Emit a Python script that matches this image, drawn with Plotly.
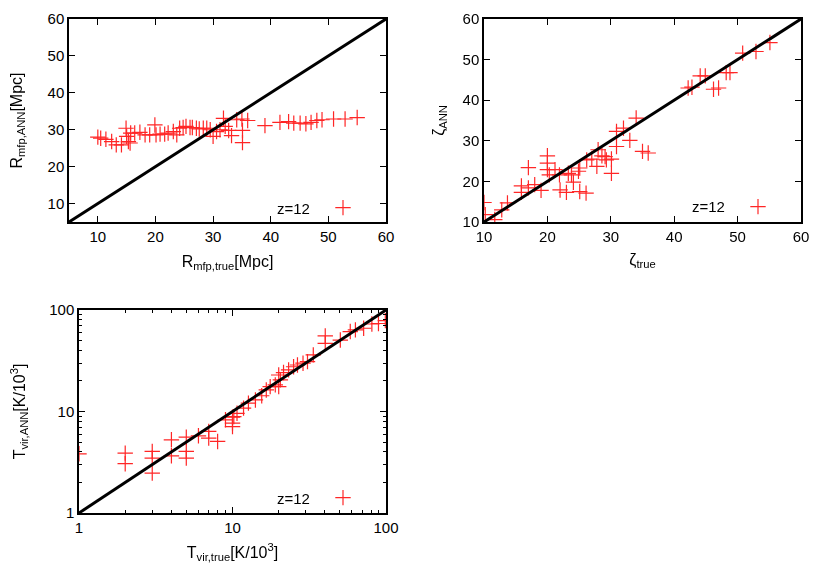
import plotly.graph_objects as go

# ---------------- data ----------------
# Panel 1: R_mfp
r_true = [10.0, 10.5, 11.4, 12.4, 13.2, 14.1, 14.9, 15.0, 15.3, 15.6, 15.7, 16.4, 17.3, 18.2,
          19.0, 19.9, 20.1, 20.8, 21.6, 22.2, 23.1, 23.7, 24.2, 24.8, 25.3, 26.0, 26.4, 27.1,
          27.6, 28.3, 28.9, 29.5, 30.0, 30.6, 31.2, 31.8, 32.1, 32.7, 33.2, 34.1, 35.0, 35.1,
          35.1, 36.0, 39.0, 41.6, 43.1, 44.0, 45.1, 46.1, 47.0, 48.0, 48.9, 50.9, 52.9, 55.0]
r_ann = [28.0, 27.7, 27.4, 26.8, 25.9, 25.9, 30.4, 28.2, 26.8, 26.4, 29.1, 29.1, 29.3, 28.6,
         28.6, 31.3, 28.6, 28.8, 28.8, 29.1, 29.5, 28.6, 30.4, 30.6, 30.9, 30.6, 30.6, 30.4,
         30.2, 30.4, 30.4, 30.0, 28.2, 29.5, 30.0, 33.1, 30.9, 29.8, 28.4, 32.7, 32.9, 29.8,
         26.5, 32.5, 31.1, 32.0, 32.2, 31.8, 31.8, 31.6, 32.0, 32.5, 32.7, 32.9, 32.9, 33.3]

# Panel 2: zeta
zeta_true = [10.0, 10.2, 11.7, 12.8, 13.7, 15.9, 15.9, 17.0, 17.0, 18.0, 19.0, 20.0, 20.0, 20.0,
             20.3, 21.2, 21.9, 22.0, 23.0, 23.3, 24.1, 23.8, 24.9, 25.1, 25.1, 26.1, 26.2, 27.0,
             27.8, 28.0, 28.6, 29.1, 29.3, 30.1, 30.1, 30.9, 30.9, 32.0, 33.0, 34.0, 35.0, 35.9,
             42.2, 42.8, 44.1, 44.9, 46.2, 47.0, 48.2, 48.8, 50.8, 52.9, 55.1]
zeta_ann = [14.8, 11.8, 10.6, 13.0, 14.7, 18.9, 17.3, 23.4, 18.4, 19.2, 17.8, 26.3, 24.5, 22.9,
            21.6, 22.9, 21.6, 17.9, 17.3, 22.0, 19.8, 21.6, 22.5, 23.3, 17.5, 17.1, 25.3, 25.5,
            23.7, 27.8, 26.3, 26.1, 25.3, 25.5, 22.0, 32.3, 28.6, 33.1, 30.1, 35.6, 27.4, 27.0,
            43.0, 43.2, 46.0, 46.0, 42.7, 43.0, 46.8, 46.8, 51.6, 52.0, 54.2]

# Panel 3: T_vir
t_true = [1.0, 2.0, 2.0, 3.0, 3.0, 3.0, 4.0, 4.0, 5.0, 5.0, 5.0, 6.0, 7.0, 7.0, 8.0, 9.0,
          10.0, 10.0, 10.0, 10.2, 10.7, 11.8, 12.7, 14.1, 15.5, 16.6, 17.6, 19.0, 20.0, 20.0,
          20.5, 21.5, 23.2, 25.0, 26.5, 28.8, 30.8, 33.6, 40.2, 40.2, 50.4, 58.5, 63.2, 71.5,
          80.9, 89.3, 99.0]
t_ann = [3.83, 3.89, 3.06, 4.04, 3.48, 2.47, 5.26, 3.66, 5.59, 4.04, 3.48, 5.76, 6.36, 5.47,
         5.07, 8.28, 8.8, 7.68, 7.11, 8.9, 9.6, 10.8, 12.1, 13.0, 14.3, 16.3, 17.6, 18.3, 17.6,
         22.9, 20.5, 24.2, 25.7, 27.6, 28.7, 29.9, 31.0, 36.1, 55.5, 47.0, 50.6, 61.3, 63.7,
         66.1, 72.8, 73.6, 78.6]

# axis ranges (also used for the y = x reference lines)
range_r = [5, 60]
range_zeta = [10, 60]
range_t = [1, 100]

legend_label = "z=12"

# ---------------- figure ----------------
OFF = 8                      # default page body margin
W, H = 830 - 2 * OFF, 581 - 2 * OFF
FONT = "Liberation Sans, Arial, sans-serif"
RED = "#ff0000"

def px_x(p):
    return (p - OFF) / W

def px_y(p):
    return 1 - (p - OFF) / H

fig = go.Figure()

marker = dict(symbol="cross-thin", size=11, line=dict(color=RED, width=1.2), color=RED)

fig.add_trace(go.Scatter(x=r_true, y=r_ann, mode="markers", marker=marker, opacity=0.85,
                         name=" ", xaxis="x", yaxis="y", legend="legend", showlegend=True))
fig.add_trace(go.Scatter(x=range_r, y=range_r, mode="lines", line=dict(color="black", width=3),
                         xaxis="x", yaxis="y", showlegend=False))

fig.add_trace(go.Scatter(x=zeta_true, y=zeta_ann, mode="markers", marker=marker, opacity=0.85,
                         name=" ", xaxis="x2", yaxis="y2", legend="legend2", showlegend=True))
fig.add_trace(go.Scatter(x=range_zeta, y=range_zeta, mode="lines", line=dict(color="black", width=3),
                         xaxis="x2", yaxis="y2", showlegend=False))

fig.add_trace(go.Scatter(x=t_true, y=t_ann, mode="markers", marker=marker, opacity=0.85,
                         name=" ", xaxis="x3", yaxis="y3", legend="legend3", showlegend=True))
fig.add_trace(go.Scatter(x=range_t, y=range_t, mode="lines", line=dict(color="black", width=3),
                         xaxis="x3", yaxis="y3", showlegend=False))

tickfont = dict(family=FONT, size=15, color="black")
titlefont = dict(family=FONT, size=16, color="black")

def ax(dom, rng, title, anchor, log=False, standoff=12):
    d = dict(domain=dom, anchor=anchor, showgrid=False, zeroline=False, automargin=False,
             showline=True, linecolor="black", linewidth=1.5, mirror="allticks",
             ticks="inside", ticklen=6, tickcolor="black", tickwidth=1,
             tickfont=tickfont, title=dict(text=title, font=titlefont, standoff=standoff))
    if log:
        d.update(type="log", range=[0, 2], tickvals=[1, 10, 100], ticktext=["1", "10", "100"],
                 minor=dict(ticks="inside", ticklen=3, tickcolor="black", tickwidth=1,
                            tickvals=[2, 3, 4, 5, 6, 7, 8, 9, 20, 30, 40, 50, 60, 70, 80, 90]))
    else:
        d.update(range=rng, tickmode="array", tickvals=list(range(10, 61, 10)))
    return d

x1d = [px_x(69), px_x(386)]
x2d = [px_x(484), px_x(801)]
x3d = [px_x(79), px_x(386)]
ytd = [px_y(222), px_y(19)]
ybd = [px_y(513), px_y(310)]

fig.update_layout(
    width=W, height=H, margin=dict(l=0, r=0, t=0, b=0),
    paper_bgcolor="white", plot_bgcolor="white",
    font=dict(family=FONT, color="black"),
    xaxis=ax(x1d, range_r, "R<sub>mfp,true</sub>[Mpc]", "y"),
    yaxis=ax(ytd, range_r, "R<sub>mfp,ANN</sub>[Mpc]", "x", standoff=26),
    xaxis2=ax(x2d, range_zeta, "ζ<sub>true</sub>", "y2", standoff=10),
    yaxis2=ax(ytd, range_zeta, "ζ<sub>ANN</sub>", "x2", standoff=14),
    xaxis3=ax(x3d, range_t, "T<sub>vir,true</sub>[K/10<sup>3</sup>]", "y3", log=True),
    yaxis3=ax(ybd, range_t, "T<sub>vir,ANN</sub>[K/10<sup>3</sup>]", "x3", log=True, standoff=24),
)

def leg(xp, yp):
    return dict(x=px_x(xp), y=px_y(yp), xanchor="left", yanchor="middle",
                bgcolor="rgba(0,0,0,0)", borderwidth=0, font=dict(family=FONT, size=14),
                itemwidth=30, tracegroupgap=0)

fig.update_layout(legend=leg(323, 208), legend2=leg(738, 207), legend3=leg(323, 498))

for xp, yp in [(312, 208), (727, 207), (312, 498)]:
    fig.add_annotation(text=legend_label, x=px_x(xp), y=px_y(yp), xref="paper", yref="paper",
                       xanchor="right", yanchor="middle", showarrow=False,
                       font=dict(family=FONT, size=15, color="black"))

fig.write_html("out.html")
